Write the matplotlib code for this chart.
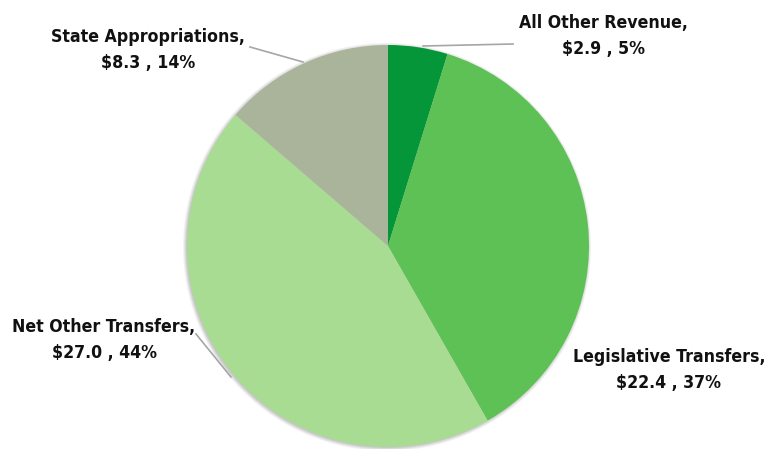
import matplotlib
matplotlib.use("Agg")
import matplotlib.pyplot as plt
from matplotlib.patches import Circle

categories = ["All Other Revenue", "Legislative Transfers", "Net Other Transfers", "State Appropriations"]
values = [2.9, 22.4, 27.0, 8.3]
percents = ["5%", "37%", "44%", "14%"]
colors = ["#05963a", "#5ec156", "#a8dc93", "#a9b49a"]

W, H = 781, 449
fig = plt.figure(figsize=(W / 100, H / 100), dpi=100)
ax = fig.add_axes([0, 0, 1, 1])

cx, cy, r = 388, H - 246, 201

# soft shadow
for i, a in enumerate([0.05, 0.05, 0.06, 0.07]):
    ax.add_patch(Circle((cx - 1, cy - 1), r + 3 - i, color="#000000", alpha=a, lw=0, zorder=0))

ax.pie(values, colors=colors, startangle=90, counterclock=False,
       center=(cx, cy), radius=r, frame=True,
       wedgeprops=dict(linewidth=0, zorder=2))
ax.set_xlim(0, W)
ax.set_ylim(0, H)
ax.set_aspect("equal")
ax.axis("off")

font = dict(family="DejaVu Sans", stretch="condensed", weight="bold", fontsize=12.7, color="#111111")

label_pos = [(603, 36), (669, 370), (104, 340), (148, 50)]
lines = [((423, 46), (513, 44)), None, ((231, 377), (196, 334)), ((303, 62), (250, 47))]
for cat, v, p, (lx, ly), ln in zip(categories, values, percents, label_pos, lines):
    ax.text(lx, H - ly, f"{cat},\n${v:.1f} , {p}", ha="center", va="center",
            linespacing=1.55, zorder=5, **font)
    if ln:
        (x0, y0), (x1, y1) = ln
        ax.plot([x0, x1], [H - y0, H - y1], color="#a6a6a6", lw=1.2, zorder=4)

fig.savefig("out.png", dpi=100)
